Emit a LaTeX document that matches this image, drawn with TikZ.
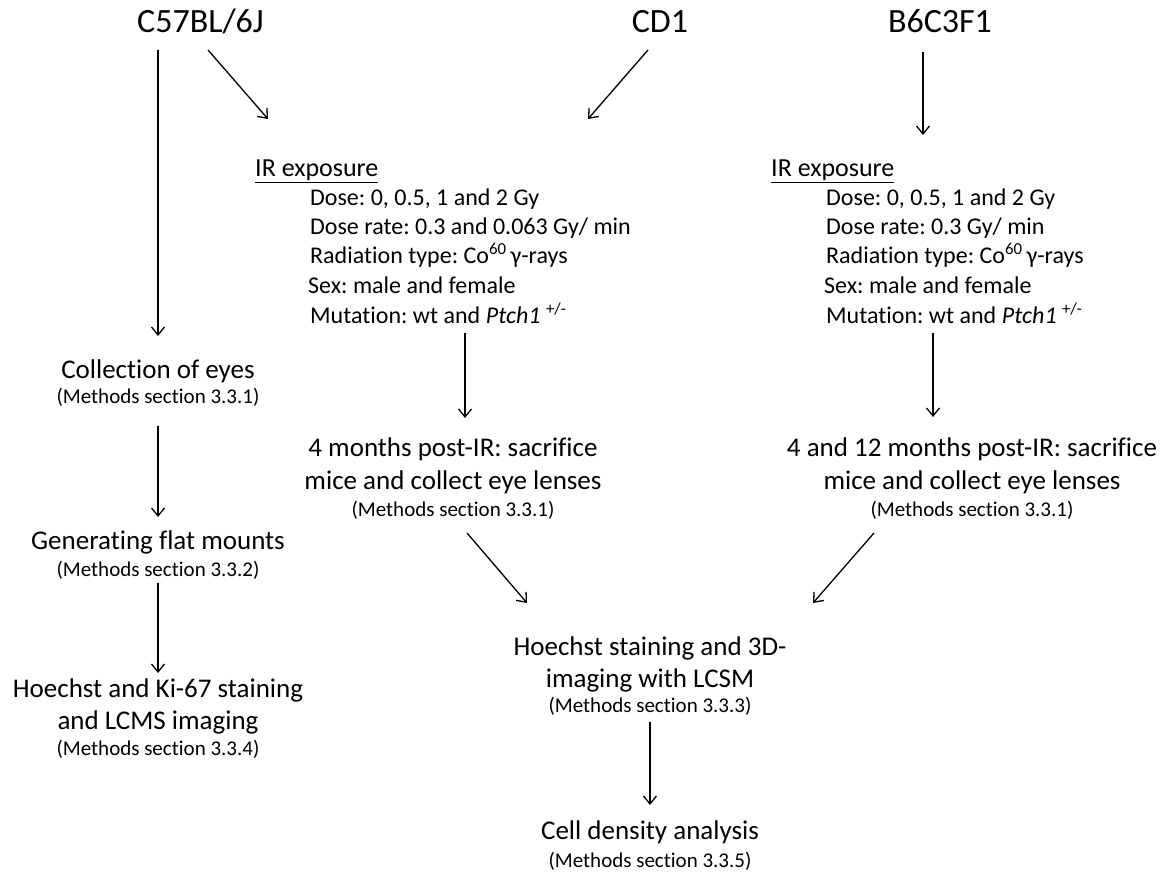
\documentclass[tikz,border=0pt]{standalone}
\usepackage{fontspec}
\setmainfont{Carlito}[Ligatures=NoCommon]
\frenchspacing
\usetikzlibrary{arrows.meta}
\tikzset{
  strain/.style={inner sep=0pt, anchor=base, font=\fontsize{34}{40}\selectfont},
  hdr/.style={inner sep=0pt, anchor=base west, font=\fontsize{26}{30}\selectfont},
  detail/.style={inner sep=0pt, anchor=base west, font=\fontsize{24}{28}\selectfont},
  stage/.style={inner sep=0pt, anchor=base, font=\fontsize{27}{32}\selectfont},
  meth/.style={inner sep=0pt, anchor=base, font=\fontsize{21}{25}\selectfont},
  arr/.style={-{Straight Barb[length=8pt,width=13pt]}, line width=1.3pt},
}
\begin{document}
\begin{tikzpicture}[x=1pt, y=1pt]
\useasboundingbox (0,0) rectangle (1166,872);
% strains
\node[strain] (c57) at (200.5,839) {C57BL/6J};
\node[strain] (cd1) at (660,839) {CD1};
\node[strain] (b6) at (940,839) {B6C3F1};
% IR exposure, middle
\node[hdr] (irL) at (255,695) {\underline{IR exposure}};
\node[detail] (mDose) at (310,666) {Dose: 0, 0.5, 1 and 2 Gy};
\node[detail] (mRate) at (310,637) {Dose rate: 0.3 and 0.063 Gy/ min};
\node[detail] (mRad) at (310,608) {Radiation type: Co\textsuperscript{60}\,γ-rays};
\node[detail] (mSex) at (308,578) {Sex: male and female};
\node[detail] (mMut) at (310,548) {Mutation: wt and \textit{Ptch1} \textsuperscript{+/-}};
% IR exposure, right
\node[hdr] (irR) at (771,695) {\underline{IR exposure}};
\node[detail] (rDose) at (826,666) {Dose: 0, 0.5, 1 and 2 Gy};
\node[detail] (rRate) at (826,637) {Dose rate: 0.3 Gy/ min};
\node[detail] (rRad) at (826,608) {Radiation type: Co\textsuperscript{60}\,γ-rays};
\node[detail] (rSex) at (824,578) {Sex: male and female};
\node[detail] (rMut) at (826,548) {Mutation: wt and \textit{Ptch1} \textsuperscript{+/-}};
% left column
\node[stage] (coll) at (158,493) {Collection of eyes};
\node[meth] (collM) at (158,468) {(Methods section 3.3.1)};
\node[stage] (gen) at (158,322) {Generating flat mounts};
\node[meth] (genM) at (158,295) {(Methods section 3.3.2)};
\node[stage] (ki1) at (158,174) {Hoechst and Ki-67 staining};
\node[stage] (ki2) at (158,142) {and LCMS imaging};
\node[meth] (kiM) at (158,116) {(Methods section 3.3.4)};
% sacrifice
\node[stage] (mid1) at (453,415) {4 months post-IR: sacrifice};
\node[stage] (mid2) at (453,382) {mice and collect eye lenses};
\node[meth] (midM) at (453,355) {(Methods section 3.3.1)};
\node[stage] (r1) at (972,415) {4 and 12 months post-IR: sacrifice};
\node[stage] (r2) at (972,382) {mice and collect eye lenses};
\node[meth] (rM) at (972,355) {(Methods section 3.3.1)};
% imaging and analysis
\node[stage] (hoe1) at (650,216) {Hoechst staining and 3D-};
\node[stage] (hoe2) at (650,184) {imaging with LCSM};
\node[meth] (hoeM) at (650,159) {(Methods section 3.3.3)};
\node[stage] (cell) at (650,33) {Cell density analysis};
\node[meth] (cellM) at (650,5) {(Methods section 3.3.5)};
% arrows
\draw[arr] ([xshift=-42.5pt,yshift=-17pt]c57.base) -- ([yshift=43pt]coll.base);
\draw[arr] ([xshift=7.5pt,yshift=-17pt]c57.base) -- ([xshift=13pt,yshift=58pt]irL.base west);
\draw[arr] ([xshift=-12pt,yshift=-17pt]cd1.base) -- ([xshift=333pt,yshift=58pt]irL.base west);
\draw[arr] ([xshift=-17pt,yshift=-19pt]b6.base) -- ([xshift=152pt,yshift=42pt]irR.base west);
\draw[arr] ([xshift=155pt,yshift=-9pt]mMut.base west) -- ([xshift=12pt,yshift=39pt]mid1.base);
\draw[arr] ([xshift=107pt,yshift=-9pt]rMut.base west) -- ([xshift=-39pt,yshift=40pt]r1.base);
\draw[arr] ([yshift=-22pt]collM.base) -- ([yshift=33pt]gen.base);
\draw[arr] ([yshift=-6pt]genM.base) -- ([yshift=25pt]ki1.base);
\draw[arr] ([xshift=14pt,yshift=-16pt]midM.base) -- ([xshift=-123pt,yshift=53pt]hoe1.base);
\draw[arr] ([xshift=-98pt,yshift=-16pt]rM.base) -- ([xshift=163pt,yshift=53pt]hoe1.base);
\draw[arr] ([yshift=-9pt]hoeM.base) -- ([yshift=34pt]cell.base);
\end{tikzpicture}
\end{document}
